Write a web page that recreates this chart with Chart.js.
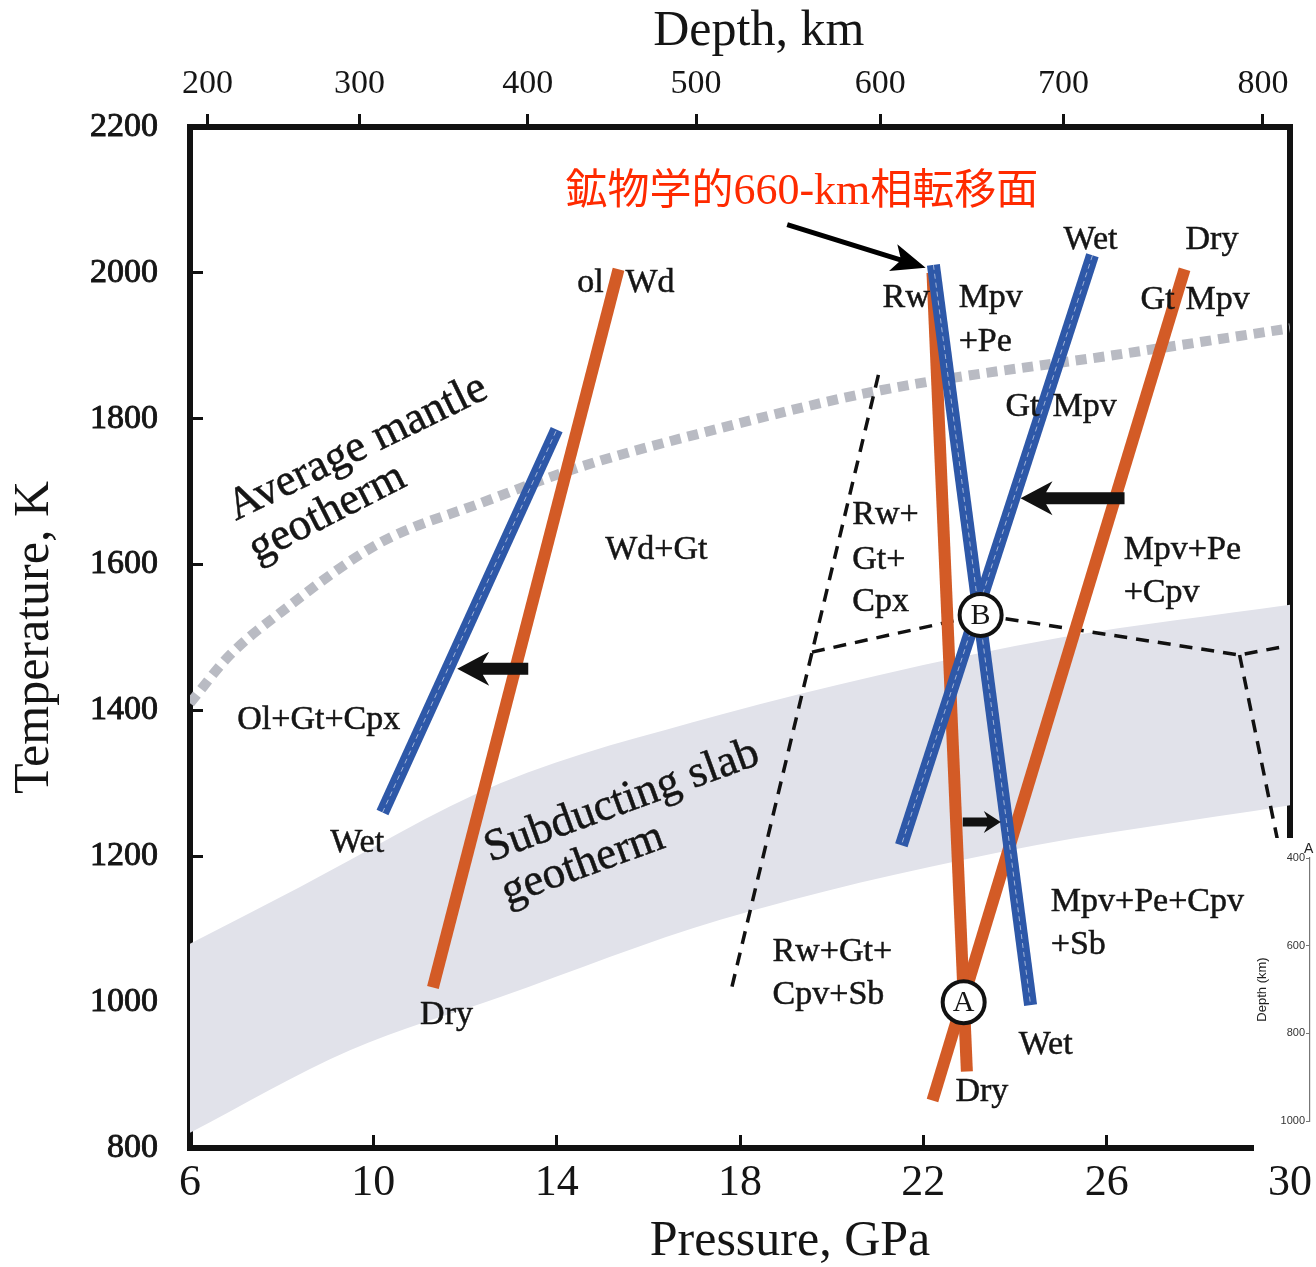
<!DOCTYPE html>
<html>
<head>
<meta charset="utf-8">
<script src="https://cdn.jsdelivr.net/npm/chart.js@4.4.1/dist/chart.umd.min.js"></script>
<style>
  html, body { margin: 0; padding: 0; background: #fff; }
  #wrap { position: relative; width: 1316px; height: 1267px; overflow: hidden; }
  #mainChart { position: absolute; left: 0; top: 0; }
  #insetChart { position: absolute; left: 1254px; top: 838px; }
</style>
</head>
<body>
<div id="wrap">
  <canvas id="mainChart" width="1316" height="1267"></canvas>
  <canvas id="insetChart" width="62" height="314"></canvas>
</div>
<script>
(function() {
    'use strict';

    // 軸
    const depthLabels = [200, 300, 400, 500, 600, 700, 800];
    const depthAtPressure = [6.38, 9.70, 13.37, 17.04, 21.06, 25.06, 29.41];
    const insetDepthTicks = [400, 600, 800, 1000];

    // 相境界 [P (GPa), T (K)]
    const dryOlWd = [[11.3, 1020], [15.35, 2005]];
    const wetOlWd = [[10.2, 1260], [14.0, 1785]];
    const dryRwMpv = [[22.2, 2000], [22.95, 905]];
    const wetRwMpv = [[22.22, 2011], [24.34, 996]];
    const dryGtMpv = [[27.7, 2005], [22.2, 865]];
    const wetGtMpv = [[25.69, 2024], [21.52, 1215]];

    // 破線の境界
    const dashRwLeft = [[21.02, 1860], [17.79, 1012]];
    const dashMiddle = [[19.57, 1480], [23.25, 1531], [28.9, 1476], [29.9, 1488]];
    const dashRight = [[28.9, 1476], [29.8, 1200]];

    // 地温勾配
    const mantleGeotherm = [[6.0, 1410], [6.87, 1476], [7.97, 1534], [10.15, 1630], [12.33, 1684],
        [14.52, 1734], [17.14, 1780], [21.07, 1839], [26.46, 1890], [30.0, 1924]];
    const slabUpper = [[6, 1080], [8.4, 1158], [12.77, 1300], [17.57, 1394], [21, 1448], [25, 1500], [30, 1545]];
    const slabLower = [[6, 821], [9.49, 934], [12.77, 1007], [17.57, 1113], [23.69, 1206], [30, 1270]];

    // 交点 A, B
    const nodeText = ['A', 'B'];
    const nodeP = [22.88, 23.25];
    const nodeT = [1000, 1531];

    // 矢印 (始点 → 先端)
    const arrowFromP = [13.38, 26.39, 22.86];
    const arrowToP = [11.83, 24.12, 23.69];
    const arrowT = [1457, 1691, 1247];
    const arrowSize = ['big', 'big', 'small'];

    // 領域ラベル
    const regionText = ['ol', 'Wd', 'Rw', 'Mpv', '+Pe', 'Wet', 'Dry', 'Gt', 'Mpv', 'Gt', 'Mpv',
        'Mpv+Pe', '+Cpv', 'Wd+Gt', 'Rw+', 'Gt+', 'Cpx', 'Ol+Gt+Cpx', 'Wet', 'Dry',
        'Rw+Gt+', 'Cpv+Sb', 'Mpv+Pe+Cpv', '+Sb', 'Wet', 'Dry'];
    const regionP = [14.45, 15.50, 21.11, 22.77, 22.77, 25.06, 27.72, 26.74, 27.72, 23.79, 24.82,
        26.37, 26.37, 15.06, 20.45, 20.45, 20.45, 7.03, 9.06, 11.02,
        18.71, 18.71, 24.78, 24.78, 24.08, 22.70];
    const regionT = [1986, 1986, 1966, 1966, 1905, 2045, 2045, 1963, 1963, 1816, 1816,
        1620, 1561, 1620, 1668, 1606, 1549, 1387, 1218, 982,
        1069, 1010, 1137, 1078, 941, 877];

    // 斜めのラベル (ベースライン始点)
    const curveText = ['Average mantle', 'geotherm', 'Subducting slab', 'geotherm'];
    const curveP = [7.0, 7.46, 12.55, 12.92];
    const curveT = [1660, 1603, 1192, 1133];
    const curveAngle = [-26, -27, -20, -20];

    // 注記
    const noteParts = ['鉱物学的', '660-km', '相転移面'];
    const noteP = 14.19;
    const noteT = 2094;
    const pointerFrom = [19.03, 2066];
    const pointerTo = [22.05, 2007];

    const SERIF = '"Liberation Serif", "Times New Roman", serif';
    const CJK = '"Noto Sans CJK JP", sans-serif';
    const INK = '#151515';
    const ORANGE = '#D35B26';
    const BLUE = '#2E58A8';

    function pts(arr) {
        return arr.map(function(p) { return { x: p[0], y: p[1] }; });
    }

    function boundary(data, color, width, order) {
        return {
            data: pts(data),
            borderColor: color,
            borderWidth: width,
            borderCapStyle: 'butt',
            pointRadius: 0,
            fill: false,
            tension: 0,
            order: order
        };
    }

    // 太線の中心に入っている細い白の破線
    function centerDash(data, order) {
        const ds = boundary(data, 'rgba(255, 255, 255, 0.55)', 1, order);
        ds.borderDash = [5, 4];
        return ds;
    }

    function dashed(data) {
        const ds = boundary(data, '#111', 3.5, 8);
        ds.borderDash = [13, 9];
        return ds;
    }

    function plainLabel(v) {
        return String(v);
    }

    // 軸ラベルのはみ出し分の余白を消して、描画領域を固定する
    function noEdgePadding(s) {
        s.paddingLeft = 0;
        s.paddingRight = 0;
        s.paddingTop = 0;
        s.paddingBottom = 0;
    }

    function drawArrow(ctx, x0, y0, x1, y1, shaft, headLen, headHalf) {
        const ang = Math.atan2(y1 - y0, x1 - x0);
        const len = Math.hypot(x1 - x0, y1 - y0);
        ctx.save();
        ctx.translate(x0, y0);
        ctx.rotate(ang);
        ctx.beginPath();
        ctx.moveTo(0, -shaft / 2);
        ctx.lineTo(len - headLen * 0.8, -shaft / 2);
        ctx.lineTo(len - headLen, -headHalf);
        ctx.lineTo(len, 0);
        ctx.lineTo(len - headLen, headHalf);
        ctx.lineTo(len - headLen * 0.8, shaft / 2);
        ctx.lineTo(0, shaft / 2);
        ctx.closePath();
        ctx.fill();
        ctx.restore();
    }

    const annotations = {
        id: 'annotations',
        afterDatasetsDraw: function(chart) {
            const ctx = chart.ctx;
            const xs = chart.scales.x;
            const ys = chart.scales.y;
            const px = function(v) { return xs.getPixelForValue(v); };
            const py = function(v) { return ys.getPixelForValue(v); };

            ctx.save();
            ctx.fillStyle = INK;
            ctx.strokeStyle = INK;
            ctx.lineWidth = 0.5;

            // 交点の文字
            ctx.font = '30px ' + SERIF;
            ctx.textAlign = 'center';
            ctx.textBaseline = 'middle';
            nodeText.forEach(function(t, i) {
                ctx.fillText(t, px(nodeP[i]), py(nodeT[i]) + 1);
            });

            // 矢印
            ctx.fillStyle = '#111';
            arrowT.forEach(function(t, i) {
                const big = arrowSize[i] === 'big';
                drawArrow(ctx, px(arrowFromP[i]), py(t), px(arrowToP[i]), py(t),
                    big ? 12 : 9, big ? 32 : 17, big ? 17 : 11);
            });

            // 領域ラベル
            ctx.fillStyle = INK;
            ctx.font = '34px ' + SERIF;
            ctx.textAlign = 'left';
            ctx.textBaseline = 'middle';
            regionText.forEach(function(t, i) {
                ctx.fillText(t, px(regionP[i]), py(regionT[i]));
                ctx.strokeText(t, px(regionP[i]), py(regionT[i]));
            });

            // 斜めのラベル
            ctx.textBaseline = 'alphabetic';
            curveText.forEach(function(t, i) {
                ctx.save();
                ctx.translate(px(curveP[i]), py(curveT[i]));
                ctx.rotate(curveAngle[i] * Math.PI / 180);
                ctx.font = '45px ' + SERIF;
                ctx.fillText(t, 0, 0);
                ctx.strokeText(t, 0, 0);
                ctx.restore();
            });

            // 赤い注記
            ctx.fillStyle = '#FF2A00';
            let nx = px(noteP);
            const ny = py(noteT);
            noteParts.forEach(function(part, i) {
                ctx.font = i === 1 ? '44px ' + SERIF : '42px ' + CJK;
                ctx.fillText(part, nx, ny);
                nx += ctx.measureText(part).width;
            });

            ctx.fillStyle = '#000';
            const ax0 = px(pointerFrom[0]), ay0 = py(pointerFrom[1]);
            const ax1 = px(pointerTo[0]), ay1 = py(pointerTo[1]);
            drawArrow(ctx, ax0, ay0, ax1, ay1, 5, 34, 14);

            ctx.restore();
        }
    };

    new Chart(document.getElementById('mainChart'), {
        type: 'line',
        data: {
            datasets: [
                {
                    data: pts(slabUpper),
                    borderWidth: 0,
                    pointRadius: 0,
                    backgroundColor: '#E1E2EA',
                    fill: '+1',
                    cubicInterpolationMode: 'monotone',
                    order: 10
                },
                {
                    data: pts(slabLower),
                    borderWidth: 0,
                    pointRadius: 0,
                    fill: false,
                    cubicInterpolationMode: 'monotone',
                    order: 10
                },
                {
                    data: pts(mantleGeotherm),
                    borderColor: '#B9BBC3',
                    borderWidth: 10,
                    borderDash: [11, 7],
                    borderCapStyle: 'butt',
                    pointRadius: 0,
                    fill: false,
                    cubicInterpolationMode: 'monotone',
                    order: 9
                },
                dashed(dashRwLeft),
                dashed(dashMiddle),
                dashed(dashRight),
                boundary(dryOlWd, ORANGE, 12, 7),
                boundary(dryRwMpv, ORANGE, 12, 7),
                boundary(dryGtMpv, ORANGE, 12, 7),
                centerDash(dryOlWd, 7),
                centerDash(dryRwMpv, 7),
                centerDash(dryGtMpv, 7),
                boundary(wetOlWd, BLUE, 13, 6),
                boundary(wetRwMpv, BLUE, 13, 6),
                boundary(wetGtMpv, BLUE, 13, 6),
                centerDash(wetOlWd, 5),
                centerDash(wetRwMpv, 5),
                centerDash(wetGtMpv, 5),
                {
                    data: nodeP.map(function(p, i) { return { x: p, y: nodeT[i] }; }),
                    showLine: false,
                    pointRadius: 21,
                    pointHoverRadius: 21,
                    pointBackgroundColor: '#fff',
                    pointBorderColor: '#111',
                    pointBorderWidth: 4,
                    order: 1
                }
            ]
        },
        options: {
            responsive: false,
            animation: false,
            layout: { padding: 0 },
            plugins: {
                legend: { display: false },
                tooltip: { enabled: false }
            },
            scales: {
                x: {
                    type: 'linear',
                    position: 'bottom',
                    min: 6,
                    max: 30,
                    z: 1,
                    ticks: {
                        stepSize: 4,
                        autoSkip: false,
                        maxRotation: 0,
                        padding: 22,
                        color: INK,
                        font: { family: SERIF, size: 44 },
                        callback: plainLabel
                    },
                    grid: { drawOnChartArea: false, tickLength: -13, tickWidth: 3, color: '#111', tickColor: '#111' },
                    border: { width: 6, color: '#111' },
                    title: {
                        display: true,
                        text: '        Pressure, GPa',
                        color: INK,
                        font: { family: SERIF, size: 50, lineHeight: 1 },
                        padding: { top: 0, bottom: 0 }
                    },
                    afterFit: function(s) { s.height = 119; noEdgePadding(s); }
                },
                x2: {
                    type: 'linear',
                    position: 'top',
                    min: 6,
                    max: 30,
                    z: 1,
                    afterBuildTicks: function(s) {
                        s.ticks = depthAtPressure.map(function(v) { return { value: v }; });
                    },
                    ticks: {
                        autoSkip: false,
                        maxRotation: 0,
                        padding: 10,
                        color: INK,
                        font: { family: SERIF, size: 34 },
                        callback: function(v, i) { return String(depthLabels[i]); }
                    },
                    grid: { drawOnChartArea: false, tickLength: 13, tickWidth: 3, color: '#111', tickColor: '#111' },
                    border: { width: 6, color: '#111' },
                    title: {
                        display: true,
                        text: '   Depth, km',
                        color: INK,
                        font: { family: SERIF, size: 50, lineHeight: 1 },
                        padding: { top: 7, bottom: 0 }
                    },
                    afterFit: function(s) { s.height = 127; noEdgePadding(s); }
                },
                y: {
                    type: 'linear',
                    position: 'left',
                    min: 800,
                    max: 2200,
                    z: 1,
                    ticks: {
                        stepSize: 200,
                        padding: 45,
                        color: INK,
                        textStrokeColor: INK,
                        textStrokeWidth: 0.9,
                        font: { family: SERIF, size: 34 },
                        callback: plainLabel
                    },
                    grid: { drawOnChartArea: false, tickLength: -13, tickWidth: 3, color: '#111', tickColor: '#111' },
                    border: { width: 6, color: '#111' },
                    title: {
                        display: true,
                        text: 'Temperature, K',
                        color: INK,
                        font: { family: SERIF, size: 50, lineHeight: 1 },
                        padding: { top: 10, bottom: 0 }
                    },
                    afterFit: function(s) { s.width = 190; noEdgePadding(s); }
                },
                yR: {
                    type: 'linear',
                    position: 'right',
                    min: 800,
                    max: 2200,
                    z: 1,
                    ticks: { display: false },
                    grid: { drawOnChartArea: false, drawTicks: false },
                    border: { width: 6, color: '#111' },
                    afterFit: function(s) { s.width = 26; noEdgePadding(s); }
                }
            }
        },
        plugins: [annotations]
    });

    // 右下の切り抜き (別図の深さ軸)
    const insetPaper = {
        id: 'insetPaper',
        beforeDraw: function(chart) {
            const ctx = chart.ctx;
            ctx.save();
            ctx.fillStyle = '#fff';
            ctx.fillRect(0, 0, chart.width, chart.height);
            ctx.restore();
        },
        afterDraw: function(chart) {
            const ctx = chart.ctx;
            const ys = chart.scales.y;
            ctx.save();
            ctx.fillStyle = '#222';
            ctx.font = '14px "Liberation Sans", Arial, sans-serif';
            ctx.textAlign = 'left';
            ctx.textBaseline = 'bottom';
            ctx.fillText('A', chart.chartArea.left - 6, ys.getPixelForValue(insetDepthTicks[0]) - 2);
            ctx.restore();
        }
    };

    new Chart(document.getElementById('insetChart'), {
        type: 'line',
        data: { datasets: [] },
        options: {
            responsive: false,
            animation: false,
            layout: { padding: { top: 20, bottom: 31, left: 0, right: 6 } },
            plugins: { legend: { display: false }, tooltip: { enabled: false } },
            scales: {
                x: { type: 'linear', display: false, min: 0, max: 1 },
                y: {
                    type: 'linear',
                    reverse: true,
                    min: insetDepthTicks[0],
                    max: insetDepthTicks[insetDepthTicks.length - 1],
                    afterBuildTicks: function(s) {
                        s.ticks = insetDepthTicks.map(function(v) { return { value: v }; });
                    },
                    ticks: {
                        padding: 1,
                        color: '#333',
                        font: { family: '"Liberation Sans", Arial, sans-serif', size: 11 },
                        callback: plainLabel
                    },
                    grid: { drawOnChartArea: false, tickLength: 4, color: '#777', tickColor: '#777' },
                    border: { width: 1.2, color: '#777' },
                    title: {
                        display: true,
                        text: 'Depth (km)',
                        color: '#222',
                        font: { family: '"Liberation Sans", Arial, sans-serif', size: 13, lineHeight: 1 },
                        padding: { top: 2, bottom: 0 }
                    },
                    afterFit: function(s) { s.width = 56; noEdgePadding(s); }
                }
            }
        },
        plugins: [insetPaper]
    });
})();
</script>
</body>
</html>
